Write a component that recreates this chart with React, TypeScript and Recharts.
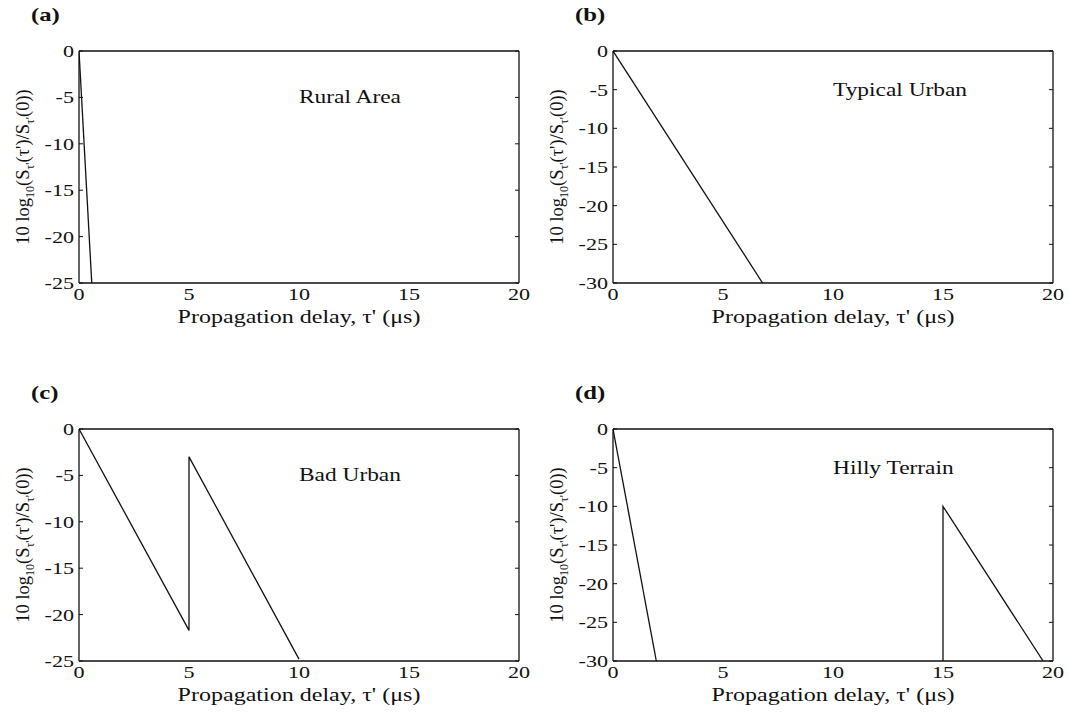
import React from "react";
import { LineChart, Line, XAxis, YAxis, ReferenceDot } from "recharts";

type Pt = { x: number; y: number };

// COST 207 delay power profiles
const xTicks = [0, 5, 10, 15, 20];
const yTicks25 = [-25, -20, -15, -10, -5, 0];
const yTicks30 = [-30, -25, -20, -15, -10, -5, 0];

const ruralArea: Pt[] = [
  { x: 0, y: 0 },
  { x: 0.58, y: -25 },
];
const typicalUrban: Pt[] = [
  { x: 0, y: 0 },
  { x: 6.8, y: -30 },
];
const badUrban: Pt[] = [
  { x: 0, y: 0 },
  { x: 5, y: -21.7 },
  { x: 5, y: -3 },
  { x: 10, y: -24.8 },
];
const hillyNear: Pt[] = [
  { x: 0, y: 0 },
  { x: 1.97, y: -30 },
];
const hillyFar: Pt[] = [
  { x: 15, y: -30 },
  { x: 15, y: -10 },
  { x: 19.55, y: -30 },
];

const panelTags = ["(a)", "(b)", "(c)", "(d)"];
const panelNames = ["Rural Area", "Typical Urban", "Bad Urban", "Hilly Terrain"];
const panelFloors = [-25, -30, -25, -30];
const noteAt = { x: 10, y: -5 };

const FONT = '"Liberation Serif", "Times New Roman", serif';
const INK = "#111";
const SX = 1.3; // the source figure is stretched horizontally

const CW = 535;
const CH = 356;
const MARGIN = { top: 51, right: 16, bottom: 43, left: 9 };

function XTick(props: any) {
  const { x, y, payload } = props;
  return (
    <text
      transform={`translate(${x},${y + 13}) scale(${SX},1)`}
      textAnchor="middle"
      fontSize={17}
      fontFamily={FONT}
      fill={INK}
    >
      {payload.value}
    </text>
  );
}

function YTick(props: any) {
  const { x, y, payload } = props;
  return (
    <text
      transform={`translate(${x},${y + 6}) scale(${SX},1)`}
      textAnchor="end"
      fontSize={17}
      fontFamily={FONT}
      fill={INK}
    >
      {payload.value}
    </text>
  );
}

function NoTick() {
  return <g />;
}

function XLabel(props: any) {
  const { x, y, width } = props.viewBox;
  return (
    <text
      transform={`translate(${x + width / 2},${y + 40}) scale(${SX},1)`}
      textAnchor="middle"
      fontSize={18.5}
      fontFamily={FONT}
      fill={INK}
    >
      Propagation delay, τ' (μs)
    </text>
  );
}

function YLabel(props: any) {
  const { x, y, height } = props.viewBox;
  return (
    <text
      transform={`translate(${x + 20},${y + height / 2}) rotate(-90)`}
      textAnchor="middle"
      fontSize={18.5}
      fontFamily={FONT}
      fill={INK}
    >
      10 log
      <tspan fontSize={12} dy={5}>10</tspan>
      <tspan dy={-5}>(S</tspan>
      <tspan fontSize={12} dy={5}>τ'</tspan>
      <tspan dy={-5}>(τ')/S</tspan>
      <tspan fontSize={12} dy={5}>τ'</tspan>
      <tspan dy={-5}>(0))</tspan>
    </text>
  );
}

function Panel({ idx, segments }: { idx: number; segments: Pt[][] }) {
  const floor = panelFloors[idx];
  const yTicks = floor === -25 ? yTicks25 : yTicks30;
  const left = idx % 2 === 0 ? 0 : 534;
  const top = idx < 2 ? 0 : 378;
  const tagLeft = idx % 2 === 0 ? 31 : 41;
  return (
    <div style={{ position: "absolute", left, top, width: CW, height: CH }}>
      <div
        style={{
          position: "absolute",
          left: tagLeft,
          top: 5,
          fontFamily: FONT,
          fontSize: 19,
          fontWeight: "bold",
          lineHeight: "19px",
          color: INK,
          transform: `scaleX(${SX})`,
          transformOrigin: "0 50%",
        }}
      >
        {panelTags[idx]}
      </div>
      <LineChart width={CW} height={CH} margin={MARGIN}>
        <XAxis
          xAxisId="x"
          dataKey="x"
          type="number"
          domain={[0, 20]}
          ticks={xTicks}
          allowDataOverflow
          height={30}
          tickLine={false}
          tickSize={0}
          tickMargin={4}
          axisLine={{ stroke: INK, strokeWidth: 1.3 }}
          tick={<XTick />}
          label={XLabel}
        />
        <XAxis
          xAxisId="xin"
          type="number"
          domain={[0, 20]}
          ticks={xTicks}
          allowDataOverflow
          orientation="bottom"
          mirror
          axisLine={false}
          tickSize={4}
          tickLine={{ stroke: INK }}
          tick={NoTick}
        />
        <XAxis
          xAxisId="xtop"
          type="number"
          domain={[0, 20]}
          ticks={xTicks}
          allowDataOverflow
          orientation="top"
          mirror
          axisLine={{ stroke: INK, strokeWidth: 1.3 }}
          tickSize={4}
          tickLine={{ stroke: INK }}
          tick={NoTick}
        />
        <YAxis
          yAxisId="y"
          type="number"
          domain={[floor, 0]}
          ticks={yTicks}
          allowDataOverflow
          width={70}
          tickLine={false}
          tickSize={0}
          tickMargin={5}
          axisLine={{ stroke: INK, strokeWidth: 1.3 }}
          tick={<YTick />}
          label={YLabel}
        />
        <YAxis
          yAxisId="yin"
          type="number"
          domain={[floor, 0]}
          ticks={yTicks}
          allowDataOverflow
          orientation="left"
          mirror
          axisLine={false}
          tickSize={4}
          tickLine={{ stroke: INK }}
          tick={NoTick}
        />
        <YAxis
          yAxisId="yright"
          type="number"
          domain={[floor, 0]}
          ticks={yTicks}
          allowDataOverflow
          orientation="right"
          mirror
          axisLine={{ stroke: INK, strokeWidth: 1.3 }}
          tickSize={4}
          tickLine={{ stroke: INK }}
          tick={NoTick}
        />
        {segments.map((seg, i) => (
          <Line
            key={i}
            xAxisId="x"
            yAxisId="y"
            data={seg}
            dataKey="y"
            type="linear"
            stroke={INK}
            strokeWidth={1.3}
            dot={false}
            activeDot={false}
            isAnimationActive={false}
          />
        ))}
        <ReferenceDot
          xAxisId="x"
          yAxisId="y"
          x={noteAt.x}
          y={noteAt.y}
          r={0}
          fill="none"
          stroke="none"
          label={(p: any) => (
            <text
              transform={`translate(${p.viewBox.x},${p.viewBox.y + 6}) scale(${SX},1)`}
              textAnchor="start"
              fontSize={18}
              fontFamily={FONT}
              fill={INK}
            >
              {panelNames[idx]}
            </text>
          )}
        />
      </LineChart>
    </div>
  );
}

export default function App() {
  return (
    <div
      style={{
        position: "absolute",
        left: 0,
        top: 0,
        width: 1069,
        height: 713,
        background: "#fff",
      }}
    >
      <Panel idx={0} segments={[ruralArea]} />
      <Panel idx={1} segments={[typicalUrban]} />
      <Panel idx={2} segments={[badUrban]} />
      <Panel idx={3} segments={[hillyNear, hillyFar]} />
    </div>
  );
}
